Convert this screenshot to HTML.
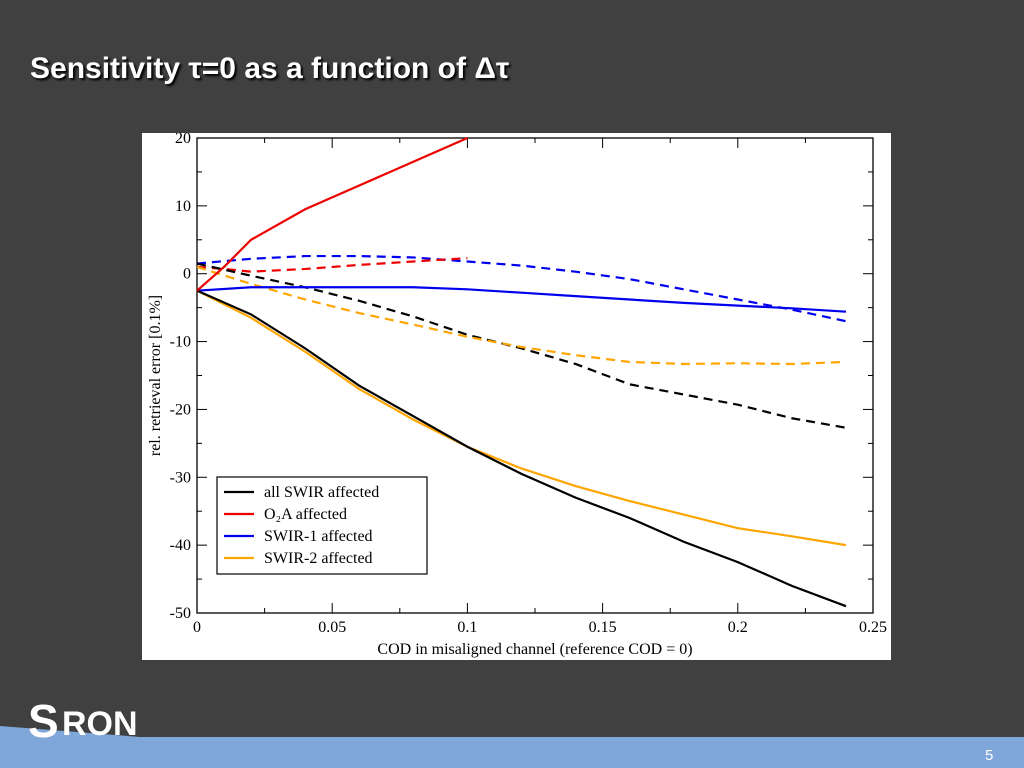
<!DOCTYPE html>
<html><head><meta charset="utf-8"><style>
body{margin:0;width:1024px;height:768px;background:#404040;overflow:hidden;position:relative;font-family:"Liberation Sans",sans-serif}
#title{position:absolute;left:30px;top:52px;color:#fff;font-weight:bold;font-size:30px;text-shadow:2px 2px 2px #000}
#chart{position:absolute;left:142px;top:133px;width:749px;height:527px;background:#fff}
#footer{position:absolute;left:0;top:0}
</style></head><body>
<svg id="footer" width="1024" height="768">
<polygon points="0,726 140,737 1024,737 1024,768 0,768" fill="#7fa7d9"/>
<text x="28" y="737" fill="#fff" font-size="46" font-weight="bold" font-family="Liberation Sans,sans-serif">S</text>
<text x="62" y="735" fill="#fff" font-size="34" font-weight="bold" font-family="Liberation Sans,sans-serif">RON</text>
<text x="985" y="760" fill="#fff" font-size="15" font-family="Liberation Sans,sans-serif">5</text>
</svg>
<div id="title">Sensitivity τ=0 as a function of Δτ</div>
<div id="chart">
<svg id="svg" width="749" height="527" font-family="Liberation Serif,serif"></svg>
</div>
<script>
const xTicks=[0,0.05,0.1,0.15,0.2,0.25];
const xTickLabels=["0","0.05","0.1","0.15","0.2","0.25"];
const yTicks=[20,10,0,-10,-20,-30,-40,-50];
const yTickLabels=["20","10","0","-10","-20","-30","-40","-50"];
const xs=[0,0.02,0.04,0.06,0.08,0.1,0.12,0.14,0.16,0.18,0.2,0.22,0.24];
const allSwirSolid=[-2.5,-6,-11,-16.5,-21,-25.5,-29.5,-33,-36,-39.5,-42.5,-46,-49];
const swir2Solid=[-2.5,-6.5,-11.5,-17,-21.5,-25.5,-28.7,-31.3,-33.5,-35.5,-37.5,-38.7,-40];
const swir1Solid=[-2.5,-2,-2,-2,-2,-2.3,-2.8,-3.3,-3.8,-4.3,-4.7,-5.1,-5.6];
const swir1Dashed=[1.5,2.2,2.6,2.6,2.4,1.8,1.2,0.3,-0.8,-2.3,-3.8,-5.3,-7];
const allSwirDashed=[1.5,-0.3,-2,-4,-6.3,-9,-11,-13.3,-16.3,-17.8,-19.3,-21.3,-22.7];
const swir2Dashed=[1,-1.5,-3.8,-5.8,-7.5,-9.3,-10.8,-12,-13,-13.3,-13.2,-13.3,-13];
const o2aXs=[0,0.01,0.02,0.04,0.06,0.08,0.1];
const o2aSolid=[-2.5,1,5,9.5,13,16.5,20];
const o2aDashed=[1,0.7,0.3,0.7,1.3,1.8,2.3];
const X0=55,X1=731,Y0=5,Y1=480;
const sx=v=>X0+(v-0)/(0.25)*(X1-X0);
const sy=v=>Y0+(20-v)/70*(Y1-Y0);
const svg=document.getElementById('svg');const NS='http://www.w3.org/2000/svg';
function mk(t,a,name){const e=document.createElementNS(NS,t);for(const k in a)e.setAttribute(k,a[k]);


svg.appendChild(e);return e;}
mk('rect',{x:X0,y:Y0,width:X1-X0,height:Y1-Y0,fill:'none',stroke:'#000','stroke-width':1.3},'plot-frame');
xTicks.forEach((v,i)=>{const x=sx(v);
mk('line',{x1:x,x2:x,y1:Y1,y2:Y1-10,stroke:'#000'},'x-tick');
mk('line',{x1:x,x2:x,y1:Y0,y2:Y0+10,stroke:'#000'},'x-tick-top');
if(i<xTicks.length-1){const m=sx(v+0.025);
mk('line',{x1:m,x2:m,y1:Y1,y2:Y1-5,stroke:'#000'},'x-minor-tick');
mk('line',{x1:m,x2:m,y1:Y0,y2:Y0+5,stroke:'#000'},'x-minor-tick-top');}
const t=mk('text',{x:x,y:Y1+19,'font-size':16,'text-anchor':'middle'},'x-tick-label');t.textContent=xTickLabels[i];});
yTicks.forEach((v,i)=>{const y=sy(v);
mk('line',{x1:X0,x2:X0+10,y1:y,y2:y,stroke:'#000'},'y-tick');
mk('line',{x1:X1,x2:X1-10,y1:y,y2:y,stroke:'#000'},'y-tick-right');
if(v>-50){const m=sy(v-5);
mk('line',{x1:X0,x2:X0+5,y1:m,y2:m,stroke:'#000'},'y-minor-tick');
mk('line',{x1:X1,x2:X1-5,y1:m,y2:m,stroke:'#000'},'y-minor-tick-right');}
const t=mk('text',{x:X0-6,y:y+5,'font-size':16,'text-anchor':'end'},'y-tick-label');t.textContent=yTickLabels[i];});
let t=mk('text',{x:(X0+X1)/2,y:521,'font-size':16,'text-anchor':'middle'},'x-axis-title');t.textContent='COD in misaligned channel (reference COD = 0)';
t=mk('text',{x:0,y:0,'font-size':16,'text-anchor':'middle',transform:`translate(18,${(Y0+Y1)/2}) rotate(-90)`},'y-axis-title');t.textContent='rel. retrieval error [0.1%]';
function line(xa,ya,col,dash,name){mk('polyline',{points:xa.map((x,i)=>sx(x)+','+sy(ya[i])).join(' '),fill:'none',stroke:col,'stroke-width':2.2,'stroke-dasharray':dash?'9,6':'none'},name);}
line(xs,swir1Dashed,'#0000ee',1,'swir1-dashed-line');
line(o2aXs,o2aDashed,'#ee0000',1,'o2a-dashed-line');
line(xs,allSwirDashed,'#000',1,'all-swir-dashed-line');
line(xs,swir2Dashed,'#ffa500',1,'swir2-dashed-line');
line(xs,swir1Solid,'#0000ee',0,'swir1-solid-line');
line(xs,swir2Solid,'#ffa500',0,'swir2-solid-line');
line(xs,allSwirSolid,'#000',0,'all-swir-solid-line');
line(o2aXs,o2aSolid,'#ee0000',0,'o2a-solid-line');
mk('rect',{x:75,y:344,width:210,height:97,fill:'#fff',stroke:'#000','stroke-width':1.2},'legend-box');
const legCols=['#000','#ee0000','#0000ee','#ffa500'];
const legLabels=['all SWIR affected','O₂A affected','SWIR-1 affected','SWIR-2 affected'];
legLabels.forEach((l,i)=>{const y=359+i*22;
mk('line',{x1:82,x2:112,y1:y,y2:y,stroke:legCols[i],'stroke-width':2.2},'legend-swatch');
const tt=mk('text',{x:122,y:y+5,'font-size':16},'legend-entry');tt.textContent=l;});
</script>
</body></html>
